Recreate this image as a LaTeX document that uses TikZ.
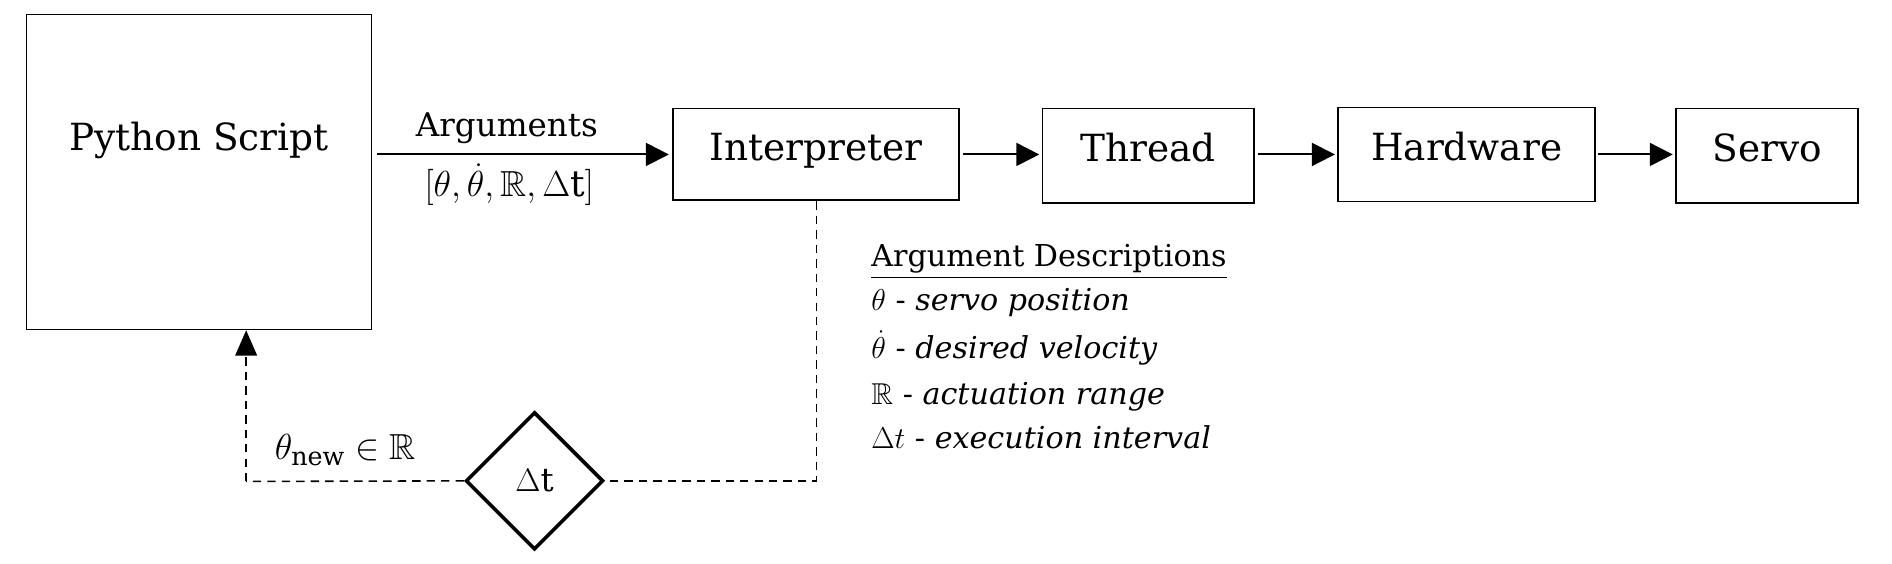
\RequirePackage{fix-cm}
\documentclass[tikz,border=0pt]{standalone}
\usepackage{amsmath,amssymb}
\usepackage{fontspec}
\setmainfont{DejaVu Serif}
\usetikzlibrary{shapes.geometric,arrows.meta}
\begin{document}
\begin{tikzpicture}[x=1pt,y=-1pt,
 box/.style={draw,line width=1.4pt,inner sep=0pt,text height=24pt,text depth=14pt},
 arr/.style={line width=1.6pt,-{Triangle[length=19pt,width=19pt]}},
 dsh/.style={line width=1.3pt,dash pattern=on 7pt off 5pt},
 big/.style={font=\fontsize{31}{36}\selectfont},
 mid/.style={font=\fontsize{27}{32}\selectfont,inner sep=0pt},
 mth/.style={font=\fontsize{30}{34}\selectfont,inner sep=0pt},
 desc/.style={font=\fontsize{25}{30}\selectfont,anchor=base west,inner sep=0pt},
]
\useasboundingbox (0,0) rectangle (1568,467);
% boxes
\node[box,minimum width=286pt,minimum height=261pt,text height=0pt,text depth=0pt] (py) at (165,142.5) {};
\node[big] (pyt) at (165,116) {Python Script};
\node[box,big,minimum width=237pt,minimum height=76pt] (ip) at (676.5,128) {Interpreter};
\node[box,big,minimum width=175pt,minimum height=78pt] (th) at (951.5,129) {Thread};
\node[box,big,minimum width=213pt,minimum height=78pt] (hw) at (1215.5,128) {Hardware};
\node[box,big,minimum width=151pt,minimum height=78pt] (sv) at (1464.5,129) {Servo};
\node[draw,diamond,aspect=1,line width=3pt,minimum size=114pt,inner sep=0pt,mid] (dt) at (443,398.5) {$\Delta\mathrm{t}$};
% connectors
\draw[arr,shorten <=4pt,shorten >=3pt] (py.east |- ip.west) -- (ip.west);
\draw[arr,shorten <=2pt,shorten >=2pt] (ip.east) -- (th.west |- ip.east);
\draw[arr,shorten <=3pt,shorten >=2pt] (th.east |- ip.east) -- (hw.west);
\draw[arr,shorten <=2pt,shorten >=2pt] (hw.east) -- (sv.west |- hw.east);
\draw[dsh] (ip.south) |- (dt.east);
\coordinate (c) at (204,399);
\draw[dsh] (dt.west) -- (c);
\draw[dsh,-{Triangle[length=21pt,width=18pt]}] (c) -- (c |- py.south);
% labels
\node[mid] (argl) at (420,106) {Arguments};
\node[mth] (argv) at (422,153) {$[\theta,\dot{\theta},\mathbb{R},\Delta\mathrm{t}]$};
\node[mth] (thn) at (286,373) {$\theta_{\text{new}}\in\mathbb{R}$};
% description
\node[desc] (d0) at (722,221) {\underline{Argument Descriptions}};
\node[desc] (d1) at (722,257) {$\theta$ - \textit{servo position}};
\node[desc] (d2) at (722,297) {$\smash{\dot{\theta}}$ - \textit{desired velocity}};
\node[desc] (d3) at (722,335) {$\mathbb{R}$ - \textit{actuation range}};
\node[desc] (d4) at (722,372) {$\Delta t$ - \textit{execution interval}};
\end{tikzpicture}
\end{document}
